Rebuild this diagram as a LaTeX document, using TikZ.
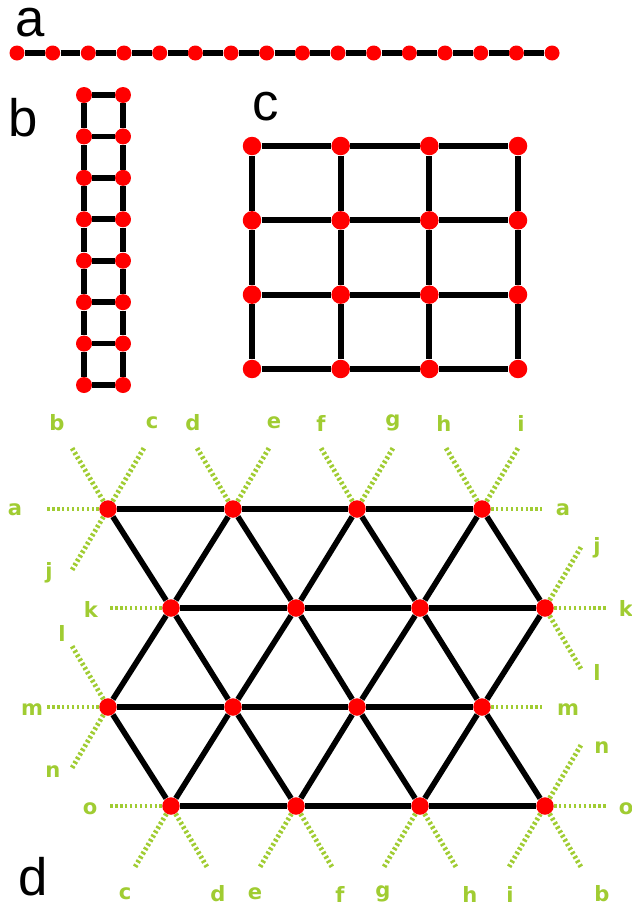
\documentclass[tikz,border=0pt]{standalone}
\usepackage{fontspec}
\setmainfont{Liberation Sans}
\newfontfamily\labfont{DejaVu Sans}
\usepackage{xcolor}
\definecolor{stubgreen}{RGB}{160,204,50}

\begin{document}
\begin{tikzpicture}[
            x = 0.02cm, y = -0.02cm, % one unit per pixel of the figure
            dot/.style = {shape=circle, fill=red, inner sep=0pt, minimum size=0.3cm},
            bond/.style = {line width=3.2pt, black},
            stub/.style = {draw=stubgreen, line width=2.8pt, dash pattern=on 1.4pt off 1.4pt},
            lab/.style = {text=stubgreen, font=\labfont\bfseries\fontsize{12}{14}\selectfont, inner sep=0pt},
            panel/.style = {font=\fontsize{30}{36}\selectfont, inner sep=0pt}
        ]
\useasboundingbox (0,0) rectangle (632,907);

% panel labels
\node[panel] (la) at (30,23) {a};
\node[panel] (lb) at (23,118) {b};
\node[panel] (lc) at (266,107) {c};
\node[panel] (ld) at (33,877) {d};

% a: chain
\foreach \i in {0,...,15}
  \node[dot] (a\i) at ({17+35.67*\i},53) {};
\foreach \i [count=\j from 1] in {0,...,14}
  \draw[bond] (a\i) -- (a\j);

% b: ladder
\foreach \i in {0,...,7} {
  \node[dot, minimum size=0.32cm] (bl\i) at (84,{95+41.43*\i}) {};
  \node[dot, minimum size=0.32cm] (br\i) at (123,{95+41.43*\i}) {};
  \draw[bond] (bl\i) -- (br\i);
}
\foreach \i [count=\j from 1] in {0,...,6} {
  \draw[bond, line width=3.6pt] (bl\i) -- (bl\j);
  \draw[bond, line width=3.6pt] (br\i) -- (br\j);
}

% c: square grid
\foreach \i in {0,...,3}
  \foreach \j in {0,...,3}
    \node[dot, minimum size=0.37cm] (c\i\j) at ({252+88.67*\i},{146+74.33*\j}) {};
\foreach \i [count=\k from 1] in {0,...,2}
  \foreach \j in {0,...,3} {
    \draw[bond, line width=3.5pt] (c\i\j) -- (c\k\j);
    \draw[bond, line width=3.5pt] (c\j\i) -- (c\j\k);
  }

% d: triangular lattice
\node[dot, minimum size=0.35cm] (d11) at (108,509) {};
\node[dot, minimum size=0.35cm] (d12) at (233,509) {};
\node[dot, minimum size=0.35cm] (d13) at (357,509) {};
\node[dot, minimum size=0.35cm] (d14) at (482,509) {};
\node[dot, minimum size=0.35cm] (d21) at (171,608) {};
\node[dot, minimum size=0.35cm] (d22) at (296,608) {};
\node[dot, minimum size=0.35cm] (d23) at (420,608) {};
\node[dot, minimum size=0.35cm] (d24) at (545,608) {};
\node[dot, minimum size=0.35cm] (d31) at (108,707) {};
\node[dot, minimum size=0.35cm] (d32) at (233,707) {};
\node[dot, minimum size=0.35cm] (d33) at (357,707) {};
\node[dot, minimum size=0.35cm] (d34) at (482,707) {};
\node[dot, minimum size=0.35cm] (d41) at (171,806) {};
\node[dot, minimum size=0.35cm] (d42) at (296,806) {};
\node[dot, minimum size=0.35cm] (d43) at (420,806) {};
\node[dot, minimum size=0.35cm] (d44) at (545,806) {};

\foreach \r in {1,...,4}
  \foreach \i [count=\k from 2] in {1,2,3}
    \draw[bond] (d\r\i) -- (d\r\k);
\foreach \u/\l in {1/2, 3/4} {
  \foreach \i in {1,...,4} \draw[bond] (d\u\i) -- (d\l\i);
  \foreach \i [count=\k from 1] in {2,3,4} \draw[bond] (d\u\i) -- (d\l\k);
}
\foreach \i in {1,...,4} \draw[bond] (d2\i) -- (d3\i);
\foreach \i [count=\k from 2] in {1,2,3} \draw[bond] (d2\i) -- (d3\k);

% periodic boundary stubs
\foreach \n/\dx/\dy/\t/\lx/\ly in {
    d11/-61/0/a/15/510, d11/-36/-61/b/57/423, d11/36/-61/c/152/423, d11/-36/61/j/49/573,
    d12/-36/-61/d/193/423, d12/36/-61/e/274/423,
    d13/-36/-61/f/321/423, d13/36/-61/g/393/423,
    d14/-36/-61/h/444/423, d14/36/-61/i/521/423, d14/60/0/a/563/510,
    d21/-61/0/k/91/609,
    d24/36/-61/j/597/548, d24/62/0/k/626/608, d24/36/61/l/597/672,
    d31/-36/-61/l/62/633, d31/-61/0/m/32/710, d31/-36/61/n/53/772,
    d34/60/0/m/568/710,
    d41/-61/0/o/90/809, d41/-36/61/c/125/894, d41/36/61/d/218/894,
    d42/-36/61/e/255/894, d42/36/61/f/340/894,
    d43/-36/61/g/383/894, d43/36/61/h/470/894,
    d44/36/-61/n/602/748, d44/62/0/o/626/809, d44/-36/61/i/510/894, d44/36/61/b/602/894}
{
  \draw[stub] (\n) -- ++(\dx,\dy) coordinate (\n-\t);
  \node[lab] (lab-\n-\t) at (\lx,\ly) {\t};
}
\end{tikzpicture}
\end{document}
